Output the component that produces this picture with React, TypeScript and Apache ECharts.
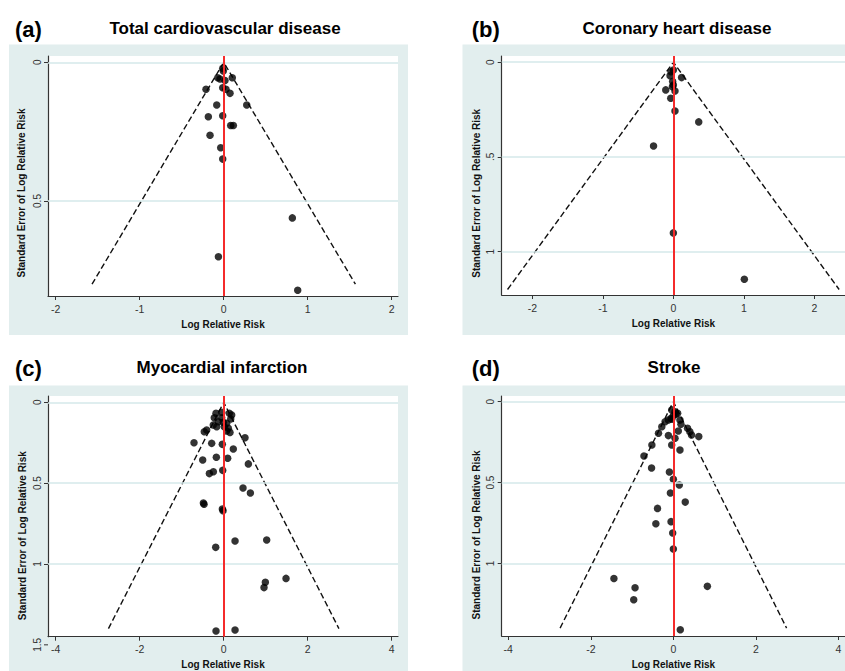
import React, { useEffect, useRef } from "react";
import * as echarts from "echarts";

// ---------- DATA (Log Relative Risk, Standard Error) ----------
const pointsA: number[][] = [
  [-0.012, 0.022], [-0.005, 0.031], [-0.071, 0.056], [-0.044, 0.06], [0.102, 0.056],
  [0.015, 0.066], [-0.012, 0.092], [0.027, 0.097], [0.075, 0.112], [-0.211, 0.097],
  [-0.083, 0.154], [0.274, 0.154], [-0.183, 0.196], [-0.012, 0.193], [0.083, 0.228],
  [0.115, 0.228], [-0.163, 0.263], [-0.036, 0.308], [-0.012, 0.349], [0.817, 0.561],
  [-0.063, 0.701], [0.881, 0.822],
];
const pointsB: number[][] = [
  [0.0, 0.041], [-0.033, 0.05], [-0.047, 0.071], [0.117, 0.081], [-0.01, 0.102],
  [0.0, 0.12], [-0.014, 0.129], [-0.108, 0.146], [0.023, 0.152], [-0.037, 0.19],
  [0.023, 0.257], [0.36, 0.315], [-0.281, 0.442], [0.0, 0.901], [1.007, 1.146],
];
const pointsC: number[][] = [
  [-0.183, 0.068], [-0.048, 0.062], [0.133, 0.068], [0.19, 0.079], [-0.224, 0.095],
  [-0.048, 0.095], [0.167, 0.103], [-0.129, 0.12], [-0.01, 0.124], [0.071, 0.13],
  [-0.248, 0.14], [-0.167, 0.151], [0.014, 0.151], [0.11, 0.161], [0.071, 0.178],
  [0.15, 0.186], [-0.405, 0.171], [-0.462, 0.182], [0.507, 0.219], [-0.707, 0.25],
  [-0.286, 0.254], [-0.033, 0.26], [0.229, 0.289], [-0.5, 0.357], [-0.175, 0.34],
  [0.095, 0.346], [0.587, 0.381], [-0.246, 0.429], [-0.341, 0.441], [-0.024, 0.421],
  [0.46, 0.53], [0.635, 0.561], [-0.484, 0.623], [-0.468, 0.631], [-0.032, 0.66],
  [-0.016, 0.67], [0.27, 0.858], [1.024, 0.852], [-0.19, 0.897], [1.484, 1.089],
  [0.992, 1.113], [0.96, 1.146], [0.27, 1.408], [-0.183, 1.414],
];
const pointsD: number[][] = [
  [-0.04, 0.051], [0.04, 0.062], [0.104, 0.072], [0.0, 0.087], [0.056, 0.078],
  [-0.056, 0.103], [-0.04, 0.109], [-0.12, 0.113], [-0.2, 0.124], [0.16, 0.113],
  [0.184, 0.14], [-0.28, 0.155], [0.344, 0.165], [0.4, 0.186], [0.12, 0.181],
  [-0.36, 0.195], [-0.12, 0.21], [0.44, 0.206], [0.616, 0.216], [0.04, 0.226],
  [-0.52, 0.268], [-0.04, 0.268], [0.16, 0.299], [-0.712, 0.336], [-0.528, 0.41],
  [-0.096, 0.435], [0.0, 0.48], [0.144, 0.515], [-0.072, 0.565], [0.288, 0.621],
  [-0.384, 0.66], [-0.424, 0.755], [-0.056, 0.742], [-0.016, 0.812], [0.0, 0.911],
  [-1.44, 1.093], [-0.928, 1.151], [-0.96, 1.225], [0.824, 1.142], [0.168, 1.41],
];

// pseudo 95% confidence limits (funnel) : [x, se]
const funnelA: number[][] = [[-1.568, 0.8], [0, 0], [1.568, 0.8]];
const funnelB: number[][] = [[-2.352, 1.2], [0, 0], [2.352, 1.2]];
const funnelC: number[][] = [[-2.744, 1.4], [0, 0], [2.744, 1.4]];
const funnelD: number[][] = [[-2.744, 1.4], [0, 0], [2.744, 1.4]];

const xTicksAB = [-2, -1, 0, 1, 2];
const xTicksCD = [-4, -2, 0, 2, 4];
const yTicksA = [0, 0.5];
const yLabelsA = ["0", "0.5"];
const yTicksB = [0, 0.5, 1];
const yLabelsB = ["0", ".5", "1"];
const yTicksC = [0, 0.5, 1];
const yLabelsC = ["0", "0.5", "1"];
const yExtraC = [1.5];
const yExtraLabelsC = ["1.5"];
const yTicksD = [0, 0.5, 1];
const yLabelsD = ["0", "0.5", "1"];

const titles = [
  "Total cardiovascular disease",
  "Coronary heart disease",
  "Myocardial infarction",
  "Stroke",
];
const tags = ["(a)", "(b)", "(c)", "(d)"];
const xName = "Log Relative Risk";
const yName = "Standard Error of Log Relative Risk";

const FONT = "'Liberation Sans', Arial, Helvetica, sans-serif";
const BG = "#e2eeee";
const GRIDLINE = "#d4e9ea";

const panels = [
  { points: pointsA, funnel: funnelA, xt: xTicksAB, yt: yTicksA, yl: yLabelsA,
    grid: { left: 48, top: 56, width: 350, height: 240 }, xr: [-2.092, 2.075], yr: [-0.0227, 0.8425] },
  { points: pointsB, funnel: funnelB, xt: xTicksAB, yt: yTicksB, yl: yLabelsB,
    grid: { left: 501.7, top: 56, width: 346.6, height: 239 }, xr: [-2.435, 2.435], yr: [-0.033, 1.229] },
  { points: pointsC, funnel: funnelC, xt: xTicksCD, yt: yTicksC, yl: yLabelsC,
    grid: { left: 48, top: 396, width: 350, height: 240.7 }, xr: [-4.183, 4.15], yr: [-0.039, 1.4497] },
  { points: pointsD, funnel: funnelD, xt: xTicksCD, yt: yTicksD, yl: yLabelsD,
    grid: { left: 501.7, top: 396, width: 346.6, height: 240 }, xr: [-4.159, 4.159], yr: [-0.035, 1.449] },
];

const boxes = [
  { x: 9, y: 44.5, w: 399, h: 290.5 },
  { x: 462.5, y: 44.5, w: 390, h: 290.5 },
  { x: 9, y: 385.5, w: 399, h: 290 },
  { x: 462.5, y: 385.5, w: 390, h: 290 },
];
const tagPos = [[15, 29.5], [471.7, 29.5], [15, 368.5], [471.7, 368.5]];
const titlePos = [[225, 28.5], [677, 28.5], [222, 367], [674, 367]];
const yNamePos = [[21.7, 193], [476.7, 193.3], [22.7, 535.7], [476.7, 535]];

function labelFmt(ticks: number[], labels: string[]) {
  return (v: number) => {
    for (let i = 0; i < ticks.length; i++) {
      if (Math.abs(ticks[i] - v) < 1e-9) return labels[i];
    }
    return String(v);
  };
}

export default function App() {
  const ref = useRef<HTMLDivElement>(null);

  useEffect(() => {
    if (!ref.current) return;
    const chart = echarts.init(ref.current, null, { renderer: "svg" });

    const grids: any[] = [];
    const xAxes: any[] = [];
    const yAxes: any[] = [];
    const series: any[] = [];

    panels.forEach((p, i) => {
      grids.push({ ...p.grid, show: true, backgroundColor: "#ffffff", borderWidth: 0, containLabel: false });
      xAxes.push({
        type: "value", gridIndex: i, min: p.xr[0], max: p.xr[1],
        axisLine: { show: true, onZero: false, lineStyle: { color: "#333", width: 1.2 } },
        axisTick: { show: true, customValues: p.xt, length: 4, lineStyle: { color: "#333", width: 1 } },
        axisLabel: { customValues: p.xt, fontSize: 10.5, color: "#333", margin: 7, fontFamily: FONT,
          formatter: (v: number) => String(v) },
        splitLine: { show: false },
        name: xName, nameLocation: "middle", nameGap: 23,
        nameTextStyle: { fontWeight: "bold", fontSize: 10, color: "#111", fontFamily: FONT },
      });
      yAxes.push({
        type: "value", gridIndex: i, inverse: true, min: p.yr[0], max: p.yr[1],
        axisLine: { show: true, onZero: false, lineStyle: { color: "#333", width: 1.2 } },
        axisTick: { show: true, customValues: p.yt, length: 4, lineStyle: { color: "#333", width: 1 } },
        axisLabel: { customValues: p.yt, rotate: 90, fontSize: 10, color: "#333", margin: 6, fontFamily: FONT,
          formatter: labelFmt(p.yt, p.yl) },
        splitLine: { show: false },
      });
      // horizontal grid lines at y ticks
      series.push({
        type: "line", xAxisIndex: i, yAxisIndex: i, data: [], z: 1, silent: true,
        markLine: {
          silent: true, symbol: ["none", "none"], label: { show: false }, animation: false,
          lineStyle: { color: GRIDLINE, width: 1.5, type: "solid" },
          data: p.yt.map((t) => ({ yAxis: t })),
        },
      });
      // red vertical line at pooled estimate
      series.push({
        type: "line", xAxisIndex: i, yAxisIndex: i, data: [], z: 2, silent: true,
        markLine: {
          silent: true, symbol: ["none", "none"], label: { show: false }, animation: false,
          lineStyle: { color: "#f52b2b", width: 2, type: "solid" },
          data: [{ xAxis: 0 }],
        },
      });
      // funnel
      series.push({
        type: "line", xAxisIndex: i, yAxisIndex: i, data: p.funnel, z: 3, silent: true,
        symbol: "none", lineStyle: { color: "#111", width: 1.4, type: [6, 3] },
      });
      // studies
      series.push({
        type: "scatter", xAxisIndex: i, yAxisIndex: i, data: p.points, z: 4,
        symbol: "circle", symbolSize: 7.5, itemStyle: { color: "#000" },
      });
    });

    chart.setOption({
      animation: false,
      textStyle: { fontFamily: FONT },
      grid: grids,
      xAxis: xAxes,
      yAxis: yAxes,
      series,
    });

    const graphics: any[] = [];
    boxes.forEach((b) => {
      graphics.push({ type: "rect", z: -10, silent: true, shape: { x: b.x, y: b.y, width: b.w, height: b.h },
        style: { fill: BG } });
    });
    tags.forEach((t, i) => {
      graphics.push({ type: "text", x: tagPos[i][0], y: tagPos[i][1], z: 10,
        style: { text: t, fontSize: 22, fontWeight: "bold", fontFamily: FONT, fill: "#000",
          align: "left", verticalAlign: "middle" } });
    });
    titles.forEach((t, i) => {
      graphics.push({ type: "text", x: titlePos[i][0], y: titlePos[i][1], z: 10,
        style: { text: t, fontSize: 17, fontWeight: "bold", fontFamily: FONT, fill: "#000",
          align: "center", verticalAlign: "middle" } });
    });
    yNamePos.forEach((pos) => {
      graphics.push({ type: "text", x: pos[0], y: pos[1], rotation: Math.PI / 2, z: 10,
        style: { text: yName, fontSize: 10, fontWeight: "bold", fontFamily: FONT, fill: "#111",
          align: "center", verticalAlign: "middle" } });
    });
    // extra y tick of panel (c) lying just below the x axis
    yExtraC.forEach((v, k) => {
      const px = chart.convertToPixel({ gridIndex: 2 } as any, [0, v]) as number[];
      const left = panels[2].grid.left;
      graphics.push({ type: "line", z: 10, silent: true,
        shape: { x1: left - 4, y1: px[1], x2: left, y2: px[1] }, style: { stroke: "#333", lineWidth: 1 } });
      graphics.push({ type: "text", x: left - 6 - 5, y: px[1], rotation: Math.PI / 2, z: 10,
        style: { text: yExtraLabelsC[k], fontSize: 10, fontFamily: FONT, fill: "#333",
          align: "center", verticalAlign: "middle" } });
    });

    chart.setOption({ graphic: graphics });

    return () => chart.dispose();
  }, []);

  return (
    <div
      ref={ref}
      style={{ position: "absolute", left: 0, top: 0, width: 845, height: 671 }}
    />
  );
}
